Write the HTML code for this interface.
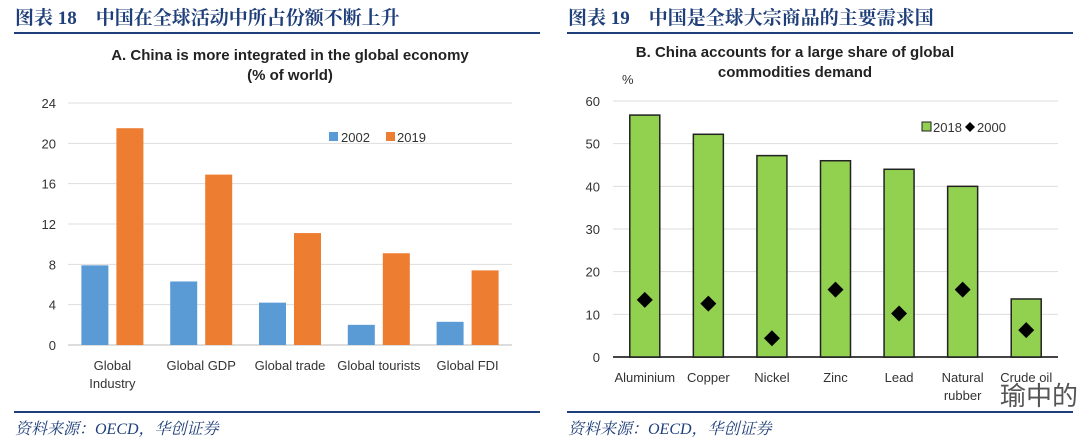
<!DOCTYPE html>
<html><head><meta charset="utf-8"><style>
body{margin:0;width:1079px;height:443px;background:#fff;overflow:hidden;font-family:"Liberation Sans",sans-serif}
svg{position:absolute;left:0;top:0}
</style></head><body>
<svg width="1079" height="443" xmlns="http://www.w3.org/2000/svg">
<g font-family="'Liberation Serif','Noto Serif CJK SC',serif" font-weight="bold" fill="#1f3f7a" font-size="19">
<text x="15" y="24">图表 18　中国在全球活动中所占份额不断上升</text>
<text x="568" y="24">图表 19　中国是全球大宗商品的主要需求国</text>
</g>
<rect x="14" y="32" width="526" height="2" fill="#1f3f7a"/>
<rect x="567" y="32" width="506" height="2" fill="#1f3f7a"/>
<rect x="14" y="411" width="526" height="2" fill="#1f3f7a"/>
<rect x="567" y="411" width="506" height="2" fill="#1f3f7a"/>
<g font-family="'Liberation Serif','Noto Serif CJK SC',serif" font-style="italic" fill="#1f3f7a" font-size="16">
<text x="15" y="434">资料来源：OECD，华创证券</text>
<text x="568" y="434">资料来源：OECD，华创证券</text>
</g>
<g font-weight="bold" fill="#222" font-size="15" text-anchor="middle">
<text x="290" y="60">A. China is more integrated in the global economy</text>
<text x="290" y="80">(% of world)</text>
<text x="795" y="57">B. China accounts for a large share of global</text>
<text x="795" y="77">commodities demand</text>
</g>
<g id="left"></g>
<g id="right"></g>
<text x="622" y="84" font-size="13" fill="#333">%</text>
<text x="1000" y="405" font-size="26" fill="#555" font-family="'Liberation Sans','Noto Sans CJK SC',sans-serif">瑜中的</text>
</svg>
<script>
const NS='http://www.w3.org/2000/svg';
function mk(p,t,a){const e=document.createElementNS(NS,t);for(const k in a)e.setAttribute(k,a[k]);p.appendChild(e);return e;}
const leftCats=[["Global","Industry"],["Global GDP"],["Global trade"],["Global tourists"],["Global FDI"]];
const v2002=[7.9,6.3,4.2,2.0,2.3];
const v2019=[21.5,16.9,11.1,9.1,7.4];
const leftTicks=[0,4,8,12,16,20,24];
const rightCats=[["Aluminium"],["Copper"],["Nickel"],["Zinc"],["Lead"],["Natural","rubber"],["Crude oil"]];
const v2018=[56.7,52.2,47.2,46.0,44.0,40.0,13.6];
const v2000=[13.4,12.5,4.4,15.8,10.2,15.8,6.3];
const rightTicks=[0,10,20,30,40,50,60];

(function(){
const g=document.getElementById('left');
const y=v=>345-v*(242/24);
const x0=68,x1=512,step=(x1-x0)/leftCats.length;
leftTicks.forEach(t=>{
 const l=mk(g,'line',{x1:x0,x2:x1,y1:y(t),y2:y(t),stroke:t===0?'#bbb':'#ddd','stroke-width':1});
 
 const tx=mk(g,'text',{x:56,y:y(t)+5,'text-anchor':'end','font-size':13,fill:'#333'});tx.textContent=t;
 
});
leftCats.forEach((c,i)=>{
 const cx=x0+step*(i+0.5);
 const b1=mk(g,'rect',{x:cx-31,y:y(v2002[i]),width:27,height:y(0)-y(v2002[i]),fill:'#5b9bd5'});
 
 const b2=mk(g,'rect',{x:cx+4,y:y(v2019[i]),width:27,height:y(0)-y(v2019[i]),fill:'#ed7d31'});
 
 c.forEach((s,j)=>{const t=mk(g,'text',{x:cx,y:370+j*18,'text-anchor':'middle','font-size':13,fill:'#333'});t.textContent=s;
 });
});
const l1=mk(g,'rect',{x:329,y:132,width:9,height:9,fill:'#5b9bd5'});
const t1=mk(g,'text',{x:341,y:142,'font-size':13,fill:'#333'});t1.textContent='2002';
const l2=mk(g,'rect',{x:386,y:132,width:9,height:9,fill:'#ed7d31'});
const t2=mk(g,'text',{x:397,y:142,'font-size':13,fill:'#333'});t2.textContent='2019';
})();

(function(){
const g=document.getElementById('right');
const y=v=>357-v*(256/60);
const x0=613,x1=1058,step=(x1-x0)/rightCats.length;
rightTicks.forEach(t=>{
 const l=mk(g,'line',{x1:x0,x2:x1,y1:y(t),y2:y(t),stroke:t===0?'#444':'#ddd','stroke-width':t===0?2:1});
 
 const tx=mk(g,'text',{x:600,y:y(t)+5,'text-anchor':'end','font-size':13,fill:'#333'});tx.textContent=t;
 
});
rightCats.forEach((c,i)=>{
 const cx=x0+step*(i+0.5);
 const b=mk(g,'rect',{x:cx-15,y:y(v2018[i]),width:30,height:y(0)-y(v2018[i]),fill:'#92d050',stroke:'#222','stroke-width':1.5});
 
 const yy=y(v2000[i]);
 const d=mk(g,'polygon',{points:`${cx},${yy-8} ${cx+8},${yy} ${cx},${yy+8} ${cx-8},${yy}`,fill:'#000'});
 
 c.forEach((s,j)=>{const t=mk(g,'text',{x:cx,y:382+j*18,'text-anchor':'middle','font-size':13,fill:'#333'});t.textContent=s;
 });
});
const l1=mk(g,'rect',{x:922,y:122,width:9,height:9,fill:'#92d050',stroke:'#222','stroke-width':1});
const t1=mk(g,'text',{x:933,y:132,'font-size':13,fill:'#333'});t1.textContent='2018';
const l2=mk(g,'polygon',{points:'970,122 975,127 970,132 965,127',fill:'#000'});
const t2=mk(g,'text',{x:977,y:132,'font-size':13,fill:'#333'});t2.textContent='2000';
})();
</script>
</body></html>
